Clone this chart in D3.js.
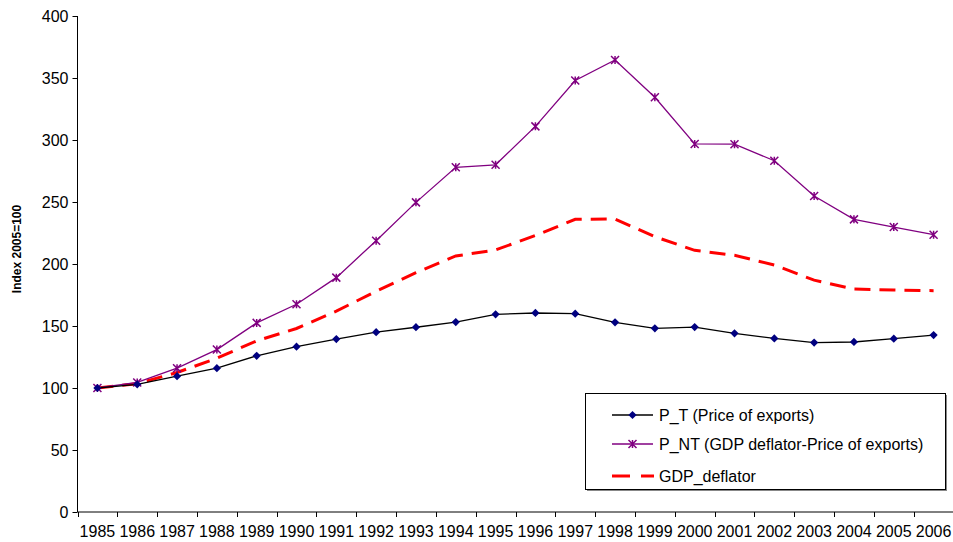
<!DOCTYPE html>
<html><head><meta charset="utf-8">
<script src="https://cdn.jsdelivr.net/npm/d3@7"></script>
<style>body{margin:0;background:#fff}svg{display:block;font-family:"Liberation Sans",Arial,sans-serif}</style>
</head><body><svg id="c" width="953" height="542"></svg>
<script>
const years = ["1985","1986","1987","1988","1989","1990","1991","1992","1993","1994","1995","1996","1997","1998","1999","2000","2001","2002","2003","2004","2005","2006"];
const pT = [100,103,109.5,116,126,133.3,139.5,145,149,153.2,159.4,160.5,159.9,153,148.1,149.1,144.1,140,136.6,137.1,139.8,142.7];
const pNT = [100,104.5,116,131,152.5,167.5,189,218.8,249.7,278,280,311,348,364.5,334.5,296.8,296.6,283.3,254.8,236,229.8,223.6];
const gdpDef = [100,103.5,112.5,124,138,148,162,178,193,206.5,211.3,223,236,236.3,222,211,207,199.2,187,179.8,179,178.5];
const yTicks = [0,50,100,150,200,250,300,350,400];
const seriesNames = ["P_T (Price of exports)","P_NT (GDP deflator-Price of exports)","GDP_deflator"];

const svg = d3.select("#c");
const x = d3.scaleBand().domain(years).range([77.5, 953.5]);
const y = d3.scaleLinear().domain([0,400]).range([512,16]);
const cx = d => x(d) + x.bandwidth()/2;

// Y axis
const ya = svg.append("g").attr("transform","translate(77.5,0)")
  .call(d3.axisLeft(y).tickValues(yTicks).tickSize(5).tickPadding(4));
ya.select(".domain").attr("stroke","#000").attr("d","M0,16V512");
ya.selectAll("text").attr("font-size",16).attr("font-family","Liberation Sans, Arial").attr("fill","#000");

// X axis
const xa = svg.append("g").attr("transform","translate(0,512)")
  .call(d3.axisBottom(x).tickSize(0).tickPadding(14));
xa.select(".domain").attr("stroke","#000").attr("d","M77.5,0H953");
xa.selectAll("text").attr("font-size",16).attr("font-family","Liberation Sans, Arial").attr("fill","#000");
svg.append("g").selectAll("line").data(years.map(d=>x(d)).concat([x(years[years.length-1])+x.bandwidth()]))
  .join("line").attr("x1",d=>Math.round(d)+0.5).attr("x2",d=>Math.round(d)+0.5)
  .attr("y1",512).attr("y2",517).attr("stroke","#000");

// axis title
svg.append("text").attr("transform","translate(21,249) rotate(-90)")
  .attr("text-anchor","middle").attr("font-size",12).attr("font-weight","bold").text("Index 2005=100");

const line = d3.line().x((d,i)=>cx(years[i])).y(d=>y(d));

// GDP deflator
svg.append("path").datum(gdpDef).attr("d",line).attr("fill","none")
  .attr("stroke","#ff0000").attr("stroke-width",3).attr("stroke-dasharray","16,9");

// P_NT
svg.append("path").datum(pNT).attr("d",line).attr("fill","none").attr("stroke","#800080").attr("stroke-width",1.3);
const star = (g, px, py, s) => {
  g.append("path").attr("d",`M${px-s},${py-s}L${px+s},${py+s}M${px-s},${py+s}L${px+s},${py-s}M${px},${py-s}V${py+s}`)
   .attr("stroke","#800080").attr("stroke-width",1.5).attr("fill","none");
};
const sg = svg.append("g");
pNT.forEach((v,i)=>star(sg, cx(years[i]), y(v), 4));

// P_T
svg.append("path").datum(pT).attr("d",line).attr("fill","none").attr("stroke","#000").attr("stroke-width",1.3);
svg.append("g").selectAll("path").data(pT).join("path")
  .attr("d",d3.symbol().type(d3.symbolSquare).size(34))
  .attr("transform",(d,i)=>`translate(${cx(years[i])},${y(d)}) rotate(45)`)
  .attr("fill","#000080");

// Legend
const lg = svg.append("g");
lg.append("rect").attr("x",585.5).attr("y",393.5).attr("width",360).attr("height",96).attr("fill","#fff").attr("stroke","#000");
lg.append("line").attr("x1",587).attr("x2",946).attr("y1",490.5).attr("y2",490.5).attr("stroke","#888");
lg.append("line").attr("x1",946.5).attr("x2",946.5).attr("y1",395).attr("y2",491).attr("stroke","#888");
const rows = [415,444,474];
lg.append("line").attr("x1",612).attr("x2",653).attr("y1",rows[0]).attr("y2",rows[0]).attr("stroke","#000").attr("stroke-width",1.3);
lg.append("path").attr("d",d3.symbol().type(d3.symbolSquare).size(34)).attr("transform",`translate(632.5,${rows[0]}) rotate(45)`).attr("fill","#000080");
lg.append("line").attr("x1",612).attr("x2",653).attr("y1",rows[1]).attr("y2",rows[1]).attr("stroke","#800080").attr("stroke-width",1.3);
star(lg, 632.5, rows[1], 4);
lg.append("line").attr("x1",612).attr("x2",654).attr("y1",rows[2]+2).attr("y2",rows[2]+2).attr("stroke","#ff0000").attr("stroke-width",3).attr("stroke-dasharray","18,11");
lg.selectAll("text.l").data(seriesNames).join("text").attr("class","l")
  .attr("x",659).attr("y",(d,i)=>rows[i]+(i==2?2:0)).attr("dy","0.35em").attr("font-size",16).text(d=>d);
</script></body></html>
